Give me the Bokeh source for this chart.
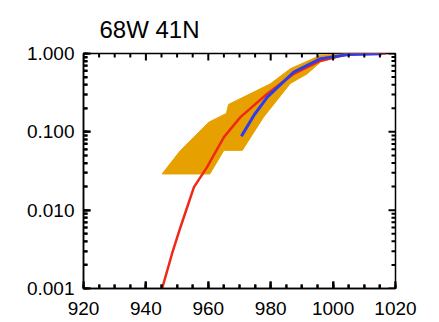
from bokeh.plotting import figure
from bokeh.models import Range1d, LogTicker, SingleIntervalTicker, PrintfTickFormatter
from bokeh.embed import file_html
from bokeh.resources import INLINE

title_text = "68W 41N"

# red curve
red_x = [945.2, 948.4, 951.1, 955.4, 959.6, 965.0, 970.3, 978.9, 987.4, 996.0, 1004.5, 1017.0]
red_y = [0.001, 0.0028, 0.0061, 0.0197, 0.0354, 0.0855, 0.154, 0.306, 0.55, 0.81, 0.98, 1.0]

# blue curve
blue_x = [970.6, 974.6, 978.9, 987.4, 996.0, 1005.0, 1015.7]
blue_y = [0.088, 0.162, 0.278, 0.58, 0.86, 0.97, 0.99]

# orange band: upper edge and lower edge, left to right
band_upper_x = [945.2, 951.1, 960.2, 965.8, 966.5, 979.9, 986.3, 996.0, 1004.5, 1015.0]
band_upper_y = [0.029, 0.058, 0.133, 0.172, 0.224, 0.41, 0.64, 0.95, 1.0, 1.0]
band_lower_x = [945.2, 960.5, 965.0, 970.9, 977.7, 986.3, 991.7, 996.0, 1004.5, 1015.0]
band_lower_y = [0.029, 0.029, 0.058, 0.058, 0.154, 0.415, 0.55, 0.78, 0.97, 1.0]

x_ticks = [920, 940, 960, 980, 1000, 1020]
x_minor_ticks = [v for v in range(920, 1021, 5) if v not in x_ticks]
y_ticks = [0.001, 0.01, 0.1, 1.0]
y_minor_ticks = [m * d for d in [0.001, 0.01, 0.1] for m in range(2, 10)]

X0, X1 = 920, 1020
Y0, Y1 = 0.001, 1.0

W, H = 439, 322
BL, BR, BT, BB = 83, 44, 53, 34
FW, FH = W - BL - BR, H - BT - BB          # frame size in pixels
DX = (X1 - X0) / FW                         # data units per pixel along x
DLOG = 3.0 / FH                             # decades per pixel along y
MAJ, MIN = 7, 4                             # tick lengths in pixels

p = figure(width=W, height=H, output_backend="svg", toolbar_location=None,
           x_range=Range1d(X0, X1), y_range=Range1d(Y0, Y1), y_axis_type="log",
           min_border_left=BL, min_border_right=BR, min_border_top=BT, min_border_bottom=BB)
p.xgrid.grid_line_color = None
p.ygrid.grid_line_color = None
p.outline_line_color = "black"
p.outline_line_width = 1.5

p.title.text = title_text
p.title.text_font = "Liberation Sans"
p.title.text_font_size = "24px"
p.title.text_font_style = "normal"
p.title.text_color = "black"
p.title.align = "left"
p.title.offset = 16
p.title.standoff = 21

bx = band_upper_x + band_lower_x[::-1]
by = band_upper_y + band_lower_y[::-1]
p.patch(bx, by, fill_color="#E6A100", line_color="#E6A100", line_width=1)
p.line(red_x, red_y, line_color="#F02818", line_width=2.5)
p.line(blue_x, blue_y, line_color="#2E3CF0", line_width=3)

# inward ticks on all four sides as short segments
sx0, sy0, sx1, sy1 = [], [], [], []
for xs_, ln in [(x_ticks, MAJ), (x_minor_ticks, MIN)]:
    for x in xs_:
        sx0 += [x, x]; sx1 += [x, x]
        sy0 += [Y0, Y1]; sy1 += [Y0 * 10 ** (ln * DLOG), Y1 / 10 ** (ln * DLOG)]
for ys_, ln in [(y_ticks, MAJ), (y_minor_ticks, MIN)]:
    for y in ys_:
        sy0 += [y, y]; sy1 += [y, y]
        sx0 += [X0, X1]; sx1 += [X0 + ln * DX, X1 - ln * DX]
p.segment(sx0, sy0, sx1, sy1, line_color="black", line_width=2)

def style(ax):
    ax.axis_line_color = "black"
    ax.axis_line_width = 1.5
    ax.major_tick_in = MAJ
    ax.major_tick_out = 0
    ax.minor_tick_in = MIN
    ax.minor_tick_out = 0
    ax.major_tick_line_color = "black"
    ax.minor_tick_line_color = "black"
    ax.major_tick_line_width = 2
    ax.minor_tick_line_width = 2
    ax.major_label_text_font = "Liberation Sans"
    ax.major_label_text_font_size = "19px"
    ax.major_label_text_color = "black"

p.xaxis.ticker = SingleIntervalTicker(interval=20, num_minor_ticks=4)
style(p.xaxis[0])
p.xaxis.major_label_standoff = 13

p.yaxis.ticker = LogTicker(num_minor_ticks=10)
p.yaxis.formatter = PrintfTickFormatter(format="%.3f")
style(p.yaxis[0])
p.yaxis.major_label_standoff = 9

open("out.html", "w").write(file_html(p, INLINE))
